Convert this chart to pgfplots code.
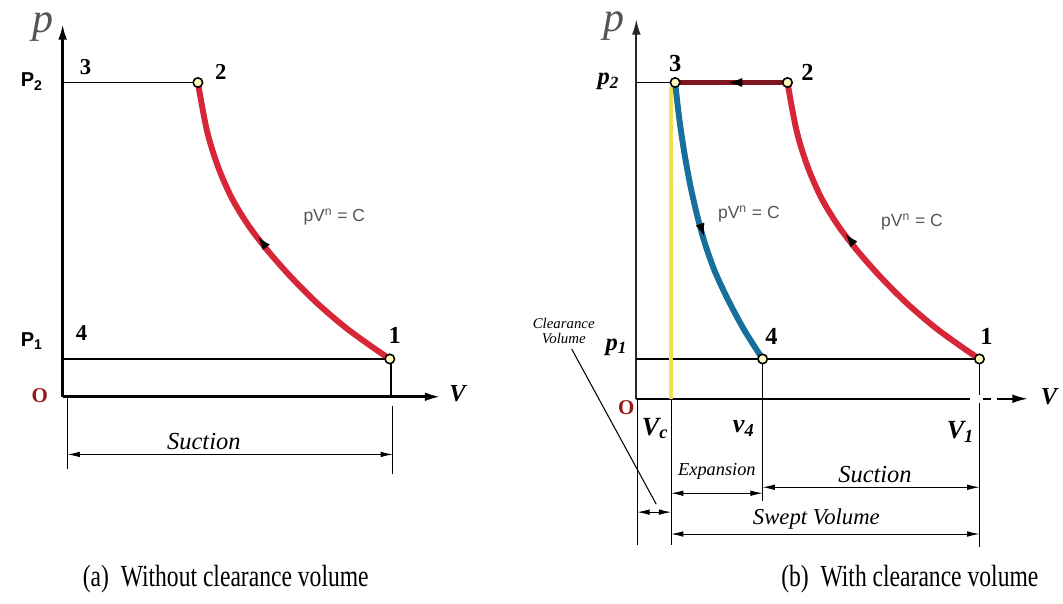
\documentclass[border=0pt]{standalone}
\usepackage{pgfplots}
\pgfplotsset{compat=1.18}
\usepackage{fontspec}
\setmainfont{Liberation Serif}
\newfontfamily\sansf{Liberation Sans}
\usetikzlibrary{arrows.meta}
\definecolor{redc}{RGB}{214,38,56}
\definecolor{darkredc}{RGB}{125,22,32}
\definecolor{bluec}{RGB}{22,112,155}
\definecolor{yellowc}{RGB}{242,222,80}
\definecolor{markf}{RGB}{255,250,190}
\definecolor{thin}{RGB}{85,85,85}
\definecolor{Ored}{RGB}{150,25,25}
\newcommand{\fs}[1]{\fontsize{#1}{#1}\selectfont}
\begin{document}
\begin{tikzpicture}
\pgfplotsset{
  panel/.style={x=0.02cm, y=0.02cm, hide axis, clip=false, anchor=south west},
  pt/.style={only marks, mark=*, mark size=2.7pt, mark options={fill=markf, draw=black, line width=0.9pt}},
  dim/.style={black, line width=0.5pt, {Latex[length=7pt,width=3.2pt]}-{Latex[length=7pt,width=3.2pt]}},
  ext/.style={black, line width=0.55pt},
  curve/.style={line width=3.4pt, smooth},
  carrow/.style={black, line width=0.01pt, -{Latex[length=7pt,width=5pt]}}
}
% ---------------- (a) Without clearance volume ----------------
\begin{axis}[panel, at={(0,0)}, xmin=-63, xmax=468, ymin=-208, ymax=399]
\path (axis cs:-63,-208) rectangle (axis cs:468,399);
% axes
\addplot[black, line width=1.6pt, -{Latex[length=9pt,width=5pt]}] coordinates {(0,0) (0,375)};
\addplot[black, line width=1.6pt, -{Latex[length=9pt,width=5pt]}] coordinates {(0,0) (380,0)};
% thin lines
\addplot[thin, line width=0.9pt] coordinates {(0,316) (136,316)};
\addplot[thin, line width=0.9pt] coordinates {(0,38) (329,38)};
\addplot[black, line width=1pt] coordinates {(330,38) (330,0)};
% compression curve 1 -> 2
\addplot[redc, curve] coordinates {(136,316) (145,268) (156,232) (170,200) (187,172) (207,146) (230,120) (256,94) (284,70) (310,51) (329,38)};
\addplot[carrow] coordinates {(205,150) (197,160)};
% dimension
\addplot[ext] coordinates {(5,0) (5,-73)};
\addplot[ext] coordinates {(332,-9) (332,-78)};
\addplot[dim] coordinates {(5,-58) (332,-58)};
% points
\addplot[pt] coordinates {(136,316) (329,38)};
% labels
\node[text=thin] at (axis cs:-20,372) {\fs{24}\itshape p};
\node at (axis cs:-31,317) {\sansf\bfseries\fs{11.5}P\textsubscript{2}};
\node at (axis cs:-31,56) {\sansf\bfseries\fs{11.5}P\textsubscript{1}};
\node at (axis cs:23,332) {\bfseries\fs{13}3};
\node at (axis cs:159,327) {\bfseries\fs{13}2};
\node at (axis cs:19,64) {\bfseries\fs{13}4};
\node at (axis cs:334,62) {\bfseries\fs{14}1};
\node[text=Ored] at (axis cs:-23,1) {\bfseries\fs{12}O};
\node[text=thin, anchor=west] at (axis cs:236,181) {\sansf\fs{10}pV\textsuperscript{n} = C};
\node at (axis cs:397,3) {\bfseries\itshape\fs{14}V};
\node at (axis cs:142,-45) {\itshape\fs{14}Suction};
\node at (axis cs:164,-183) {\scalebox{1}[1.3]{\fs{13.5}(a)\ \ Without clearance volume}};
\end{axis}
% ---------------- (b) With clearance volume ----------------
\begin{axis}[panel, at={(10.62cm,0)}, xmin=-109, xmax=423, ymin=-206, ymax=401]
\path (axis cs:-109,-206) rectangle (axis cs:423,401);
% axes
\addplot[black!85, line width=1.3pt, -{Latex[length=9pt,width=5pt]}] coordinates {(0,0) (0,382)};
\addplot[black, line width=1.3pt] coordinates {(0,0) (336,0)};
\addplot[black, line width=1.3pt] coordinates {(349,0) (357,0)};
\addplot[black, line width=1.3pt, -{Latex[length=9pt,width=5pt]}] coordinates {(363,0) (394,0)};
% thin lines
\addplot[black, line width=0.9pt] coordinates {(0,318) (39,318)};
\addplot[thin, line width=0.9pt] coordinates {(0,40) (345,40)};
\addplot[black, line width=0.8pt] coordinates {(345,40) (345,4)};
% delivery line 2 -> 3
\addplot[darkredc, line width=2.6pt] coordinates {(39,318) (152,318)};
\addplot[carrow] coordinates {(108,318) (94,318)};
% clearance volume line
\addplot[yellowc, line width=2.3pt] coordinates {(35,0) (35,313)};
% expansion curve 3 -> 4
\addplot[bluec, curve] coordinates {(39,318) (43,283) (48,249) (54,216) (61,185) (69,156) (79,128) (92,100) (108,70) (127,40)};
\addplot[carrow] coordinates {(64,176) (68,164)};
% compression curve 1 -> 2
\addplot[redc, curve] coordinates {(152,318) (161,270) (172,234) (186,202) (203,174) (223,148) (246,122) (272,96) (300,72) (326,53) (345,40)};
\addplot[carrow] coordinates {(219,155) (211,165)};
% extension lines
\addplot[ext] coordinates {(1,0) (1,-147)};
\addplot[ext] coordinates {(35,0) (35,-147)};
\addplot[ext] coordinates {(127,40) (127,-103)};
\addplot[ext] coordinates {(345,-4) (345,-149)};
% dimension arrows
\addplot[dim] coordinates {(1,-114) (35,-114)};
\addplot[dim] coordinates {(35,-95) (127,-95)};
\addplot[dim] coordinates {(127,-89) (345,-89)};
\addplot[dim] coordinates {(35,-136) (345,-136)};
% leader for clearance volume
\addplot[black, line width=0.6pt] coordinates {(-65,50) (20,-106)};
% points
\addplot[pt] coordinates {(39,318) (152,318) (127,40) (345,40)};
% labels
\node[text=thin] at (axis cs:-22,375) {\fs{24}\itshape p};
\node at (axis cs:-28,319) {\bfseries\itshape\fs{14}p\textsubscript{2}};
\node at (axis cs:-20,52) {\bfseries\itshape\fs{14}p\textsubscript{1}};
\node at (axis cs:39,337) {\bfseries\fs{14}3};
\node at (axis cs:172,328) {\bfseries\fs{14}2};
\node at (axis cs:136,63) {\bfseries\fs{14}4};
\node at (axis cs:352,63) {\bfseries\fs{14}1};
\node[text=Ored] at (axis cs:-10,-9) {\bfseries\fs{12}O};
\node at (axis cs:19,-30) {\bfseries\itshape\fs{15}V\textsubscript{c}};
\node at (axis cs:108,-30) {\bfseries\itshape\fs{15}v\textsubscript{4}};
\node at (axis cs:326,-33) {\bfseries\itshape\fs{15}V\textsubscript{1}};
\node at (axis cs:415,2) {\bfseries\itshape\fs{14}V};
\node[text=thin, anchor=west] at (axis cs:76,186) {\sansf\fs{10}pV\textsuperscript{n} = C};
\node[text=thin, anchor=west] at (axis cs:240,178) {\sansf\fs{10}pV\textsuperscript{n} = C};
\node at (axis cs:-73,76) {\itshape\fs{8.5}Clearance};
\node at (axis cs:-73,61) {\itshape\fs{8.5}Volume};
\node at (axis cs:81,-73) {\itshape\fs{10.5}Expansion};
\node at (axis cs:240,-76) {\itshape\fs{14}Suction};
\node at (axis cs:181,-121) {\itshape\fs{13}Swept Volume};
\node at (axis cs:275,-181) {\scalebox{1}[1.3]{\fs{13.5}(b)\ \ With clearance volume}};
\end{axis}
\end{tikzpicture}
\end{document}
